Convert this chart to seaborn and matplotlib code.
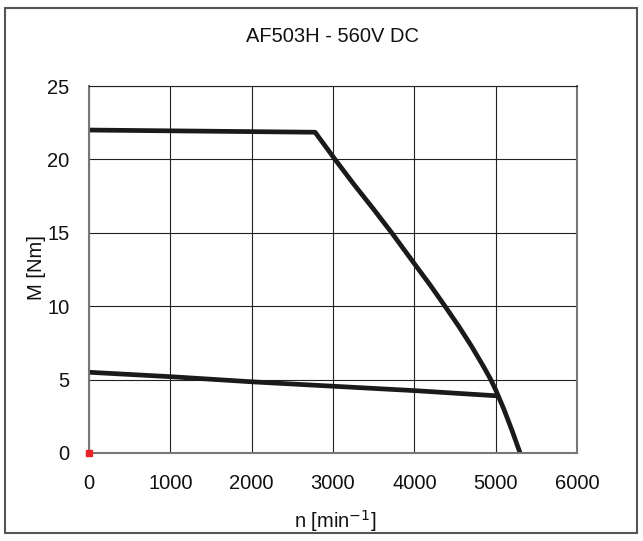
import seaborn as sns
import matplotlib.pyplot as plt
import pandas as pd
from matplotlib.patches import Rectangle

# --- Data ---
peak_speed = [0, 2780, 3025, 3250, 3500, 3722, 4000, 4200, 4377, 4550, 4700,
              4850, 4940, 5000, 5100, 5200, 5300]
peak_torque = [22.0, 21.85, 20.0, 18.35, 16.6, 15.0, 12.9, 11.4, 10.0, 8.6, 7.3,
               5.9, 5.0, 4.3, 3.0, 1.55, 0.0]

cont_speed = [0, 1000, 2000, 3000, 4000, 5000]
cont_torque = [5.5, 5.2, 4.85, 4.55, 4.25, 3.9]

x_ticks = [0, 1000, 2000, 3000, 4000, 5000, 6000]
y_ticks = [0, 5, 10, 15, 20, 25]

df_peak = pd.DataFrame({"n": peak_speed, "M": peak_torque})
df_cont = pd.DataFrame({"n": cont_speed, "M": cont_torque})

# --- Styling ---
sns.set_style("white")
plt.rcParams["font.family"] = ["Liberation Sans", "DejaVu Sans"]

fig = plt.figure(figsize=(6.43, 5.41), dpi=100)
ax = fig.add_axes([89 / 643, 1 - 453 / 541, (577 - 89) / 643, (453 - 86) / 541])

# outer frame around the whole figure
fig.patches.append(Rectangle((5 / 643, 1 - 533 / 541), 632 / 643, 525 / 541,
                             transform=fig.transFigure, fill=False,
                             edgecolor="#555555", linewidth=1.5))

sns.lineplot(data=df_peak, x="n", y="M", ax=ax, color="#1a1a1a", linewidth=3.4,
             sort=False, estimator=None)
sns.lineplot(data=df_cont, x="n", y="M", ax=ax, color="#1a1a1a", linewidth=3.4,
             sort=False, estimator=None)
ax.plot([0], [0], marker="s", color="#e8242a", markersize=4, clip_on=False, zorder=5)

ax.set_xlim(0, 6000)
ax.set_ylim(0, 25)
ax.set_xticks(x_ticks)
ax.set_yticks(y_ticks)
ax.grid(True, color="#222222", linewidth=0.8)
ax.set_axisbelow(True)

for side in ["left", "bottom", "right"]:
    ax.spines[side].set_color("#777777")
    ax.spines[side].set_linewidth(1.5)
ax.spines["top"].set_color("#222222")
ax.spines["top"].set_linewidth(0.8)

ax.tick_params(axis="both", direction="out", length=5, width=1, color="#555555",
               labelsize=14.5, labelcolor="#111111")
ax.tick_params(axis="x", pad=10)
ax.tick_params(axis="y", pad=9)

fig.text(333 / 643, 1 - 37 / 541, "AF503H - 560V DC", ha="center", va="center",
         fontsize=14.5, color="#111111")
fig.text(335 / 643, 1 - 521 / 541, "n [min$^{-1}$]", ha="center", va="center",
         fontsize=14.5, color="#111111")
fig.text(37 / 643, 1 - 268 / 541, "M [Nm]", ha="center", va="center",
         rotation=90, fontsize=14.5, color="#111111")
ax.set_xlabel("")
ax.set_ylabel("")

plt.savefig("out.png", dpi=100)
plt.close()
